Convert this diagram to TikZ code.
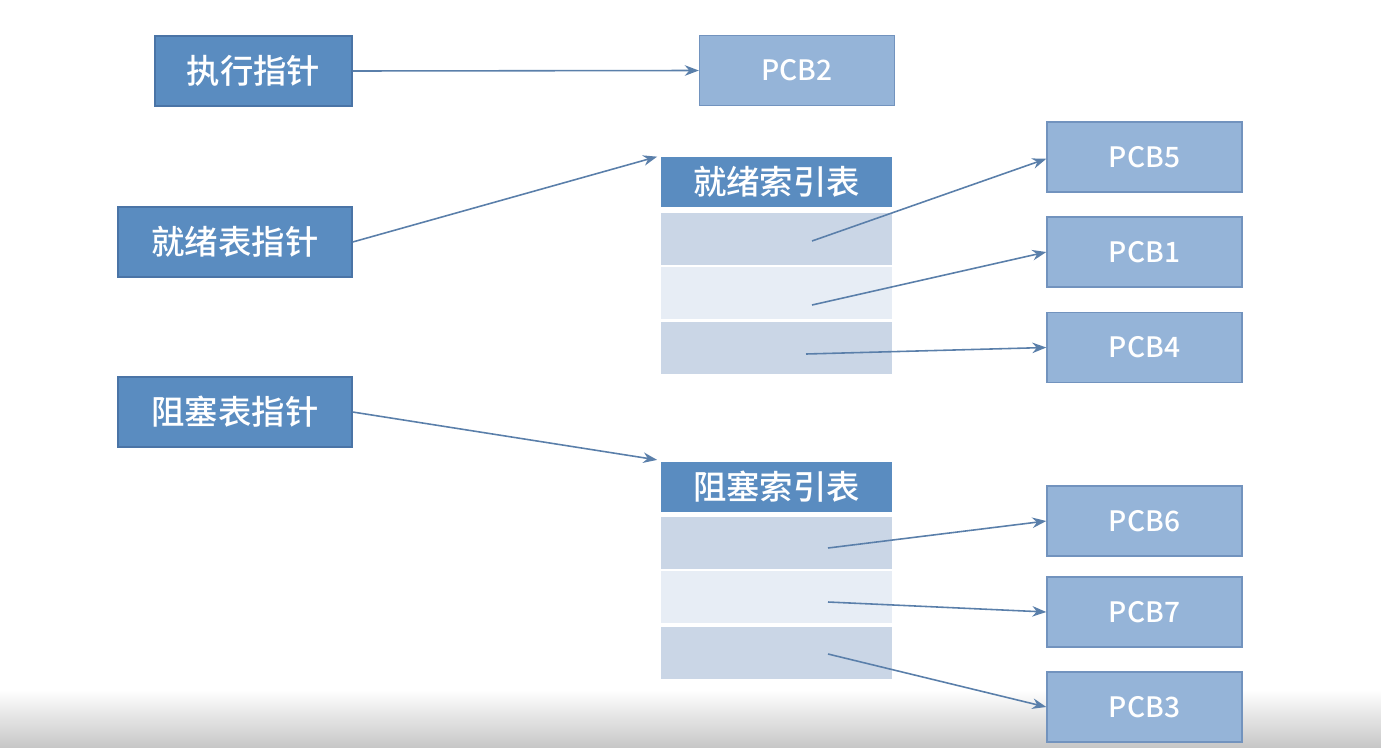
\documentclass[tikz,border=0pt]{standalone}
\usepackage{fontspec}
\setmainfont{Noto Sans CJK SC}[BoldFont={Noto Sans CJK SC Medium}]
\usetikzlibrary{arrows.meta}

\definecolor{darkblue}{HTML}{5A8CC0}
\definecolor{darkline}{HTML}{4A74A6}
\definecolor{pcbblue}{HTML}{95B4D8}
\definecolor{pcbline}{HTML}{7293BE}
\definecolor{rowdark}{HTML}{CAD6E6}
\definecolor{rowlight}{HTML}{E7EDF5}
\definecolor{arrowblue}{HTML}{5A7FAA}

\tikzset{
  ptrbox/.style={draw=darkline,fill=darkblue,text=white,line width=0.8pt,
    minimum height=1.4cm,font=\fontsize{19}{22}\selectfont\bfseries},
  headbox/.style={fill=darkblue,text=white,minimum width=4.62cm,minimum height=1cm,
    font=\fontsize{19}{22}\selectfont\bfseries},
  pcbbox/.style={draw=pcbline,fill=pcbblue,text=white,line width=0.8pt,
    minimum width=3.9cm,minimum height=1.4cm,font=\fontsize{16}{19}\selectfont\bfseries},
  rowbox/.style={minimum width=4.62cm,minimum height=1.04cm},
  link/.style={arrowblue,line width=0.9pt,-{Stealth[length=8pt,width=6pt]}}
}

\begin{document}
\begin{tikzpicture}[x=0.02cm,y=-0.02cm]
\useasboundingbox (0,0) rectangle (1381,747);
\shade[top color=white,bottom color=black!22] (0,690) rectangle (1381,747);

% pointers
\node[ptrbox,minimum width=3.94cm] (exec) at (253.5,71) {执行指针};
\node[ptrbox,minimum width=4.68cm] (readyptr) at (235,242) {就绪表指针};
\node[ptrbox,minimum width=4.68cm] (blockptr) at (235,412) {阻塞表指针};

\node[pcbbox] (pcb2) at (797,70.5) {PCB2};

% ready index table
\node[headbox] (readyhead) at (776.5,182) {就绪索引表};
\node[rowbox,fill=rowdark] (ready1) at (776.5,239) {};
\node[rowbox,fill=rowlight] (ready2) at (776.5,293) {};
\node[rowbox,fill=rowdark] (ready3) at (776.5,347.5) {};

% blocked index table
\node[headbox] (blockhead) at (776.5,487) {阻塞索引表};
\node[rowbox,fill=rowdark] (block1) at (776.5,543) {};
\node[rowbox,fill=rowlight] (block2) at (776.5,597) {};
\node[rowbox,fill=rowdark] (block3) at (776.5,652.5) {};

\node[pcbbox] (pcb5) at (1144.5,157) {PCB5};
\node[pcbbox] (pcb1) at (1144.5,252) {PCB1};
\node[pcbbox] (pcb4) at (1144.5,347.5) {PCB4};
\node[pcbbox] (pcb6) at (1144.5,521) {PCB6};
\node[pcbbox] (pcb7) at (1144.5,612) {PCB7};
\node[pcbbox] (pcb3) at (1144.5,707) {PCB3};

% arrow tails inside the rows
\coordinate (r1) at (812,241);
\coordinate (r2) at (812,305);
\coordinate (r3) at (806,354);
\coordinate (b1) at (828,548);
\coordinate (b2) at (828,602);
\coordinate (b3) at (828,654);

\draw[link] (exec.east) -- (pcb2.west);
\draw[link] (readyptr.east) -- ([xshift=-2]readyhead.north west);
\draw[link] (blockptr.east) -- ([xshift=-2,yshift=1]blockhead.north west);
\draw[link] (r1) -- ([yshift=-1]pcb5.west);
\draw[link] (r2) -- (pcb1.west);
\draw[link] (r3) -- (pcb4.west);
\draw[link] (b1) -- (pcb6.west);
\draw[link] (b2) -- (pcb7.west);
\draw[link] (b3) -- (pcb3.west);
\end{tikzpicture}
\end{document}
